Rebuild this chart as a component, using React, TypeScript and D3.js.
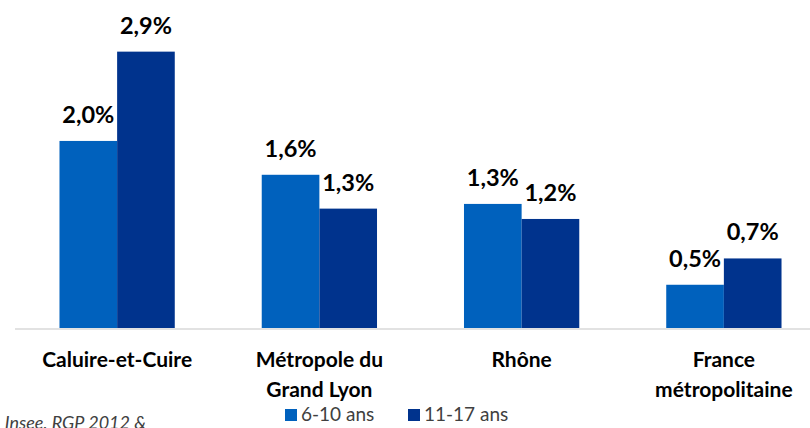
import React from 'react';
import * as d3 from 'd3';

const categories = ['Caluire-et-Cuire', 'Métropole du|Grand Lyon', 'Rhône', 'France|métropolitaine'];
const seriesNames = ['6-10 ans', '11-17 ans'];
const values6to10 = [1.99, 1.63, 1.32, 0.46];
const values11to17 = [2.94, 1.27, 1.16, 0.74];
const colors = ['#0061bd', '#00338d'];

const W = 810;
const H = 428;
const FONT = 'Lato, Carlito, Calibri, sans-serif';

export default function App() {
  const baseline = 328;
  const y = d3.scaleLinear().domain([0, 3]).range([baseline, baseline - 282]);
  const x0 = d3.scaleBand<string>()
    .domain(categories)
    .range([16, 825])
    .paddingInner(0.43)
    .paddingOuter(0.215);
  const x1 = d3.scaleBand<number>()
    .domain([0, 1])
    .range([0, x0.bandwidth()]);
  const fmt = (v: number) => d3.format('.1f')(v).replace('.', ',') + '%';

  const series = [values6to10, values11to17];

  return (
    <svg width={W} height={H} style={{ position: 'absolute', left: 0, top: 0 }} fontFamily={FONT}>
      <rect width={W} height={H} fill="#fff" />
      {categories.map((c, i) => (
        <g key={c} transform={`translate(${x0(c)},0)`}>
          {series.map((vals, s) => {
            const bx = x1(s)!;
            const by = y(vals[i]);
            return (
              <g key={s}>
                <rect x={bx} y={by} width={x1.bandwidth()} height={baseline - by} fill={colors[s]} />
                <text
                  x={bx + x1.bandwidth() / 2}
                  y={by - 18}
                  textAnchor="middle"
                  fontWeight="bold"
                  fontSize={23.5}
                  fill="#000"
                >
                  {fmt(vals[i])}
                </text>
              </g>
            );
          })}
          {c.split('|').map((line, li) => (
            <text
              key={li}
              x={x0.bandwidth() / 2}
              y={367 + li * 30}
              textAnchor="middle"
              fontWeight="bold"
              fontSize={21}
              fill="#000"
            >
              {line}
            </text>
          ))}
        </g>
      ))}
      <line x1={15} x2={W} y1={329} y2={329} stroke="#d9d9d9" strokeWidth={1.5} />
      {seriesNames.map((n, i) => {
        const lx = i === 0 ? 285 : 408;
        return (
          <g key={n}>
            <rect x={lx} y={409} width={12} height={12} fill={colors[i]} />
            <text x={lx + 16} y={421} fontSize={19} fill="#404040">{n}</text>
          </g>
        );
      })}
      <text x={146} y={429} textAnchor="end" fontStyle="italic" fontSize={18} fill="#404040">
        Insee, RGP 2012 &amp;
      </text>
    </svg>
  );
}
